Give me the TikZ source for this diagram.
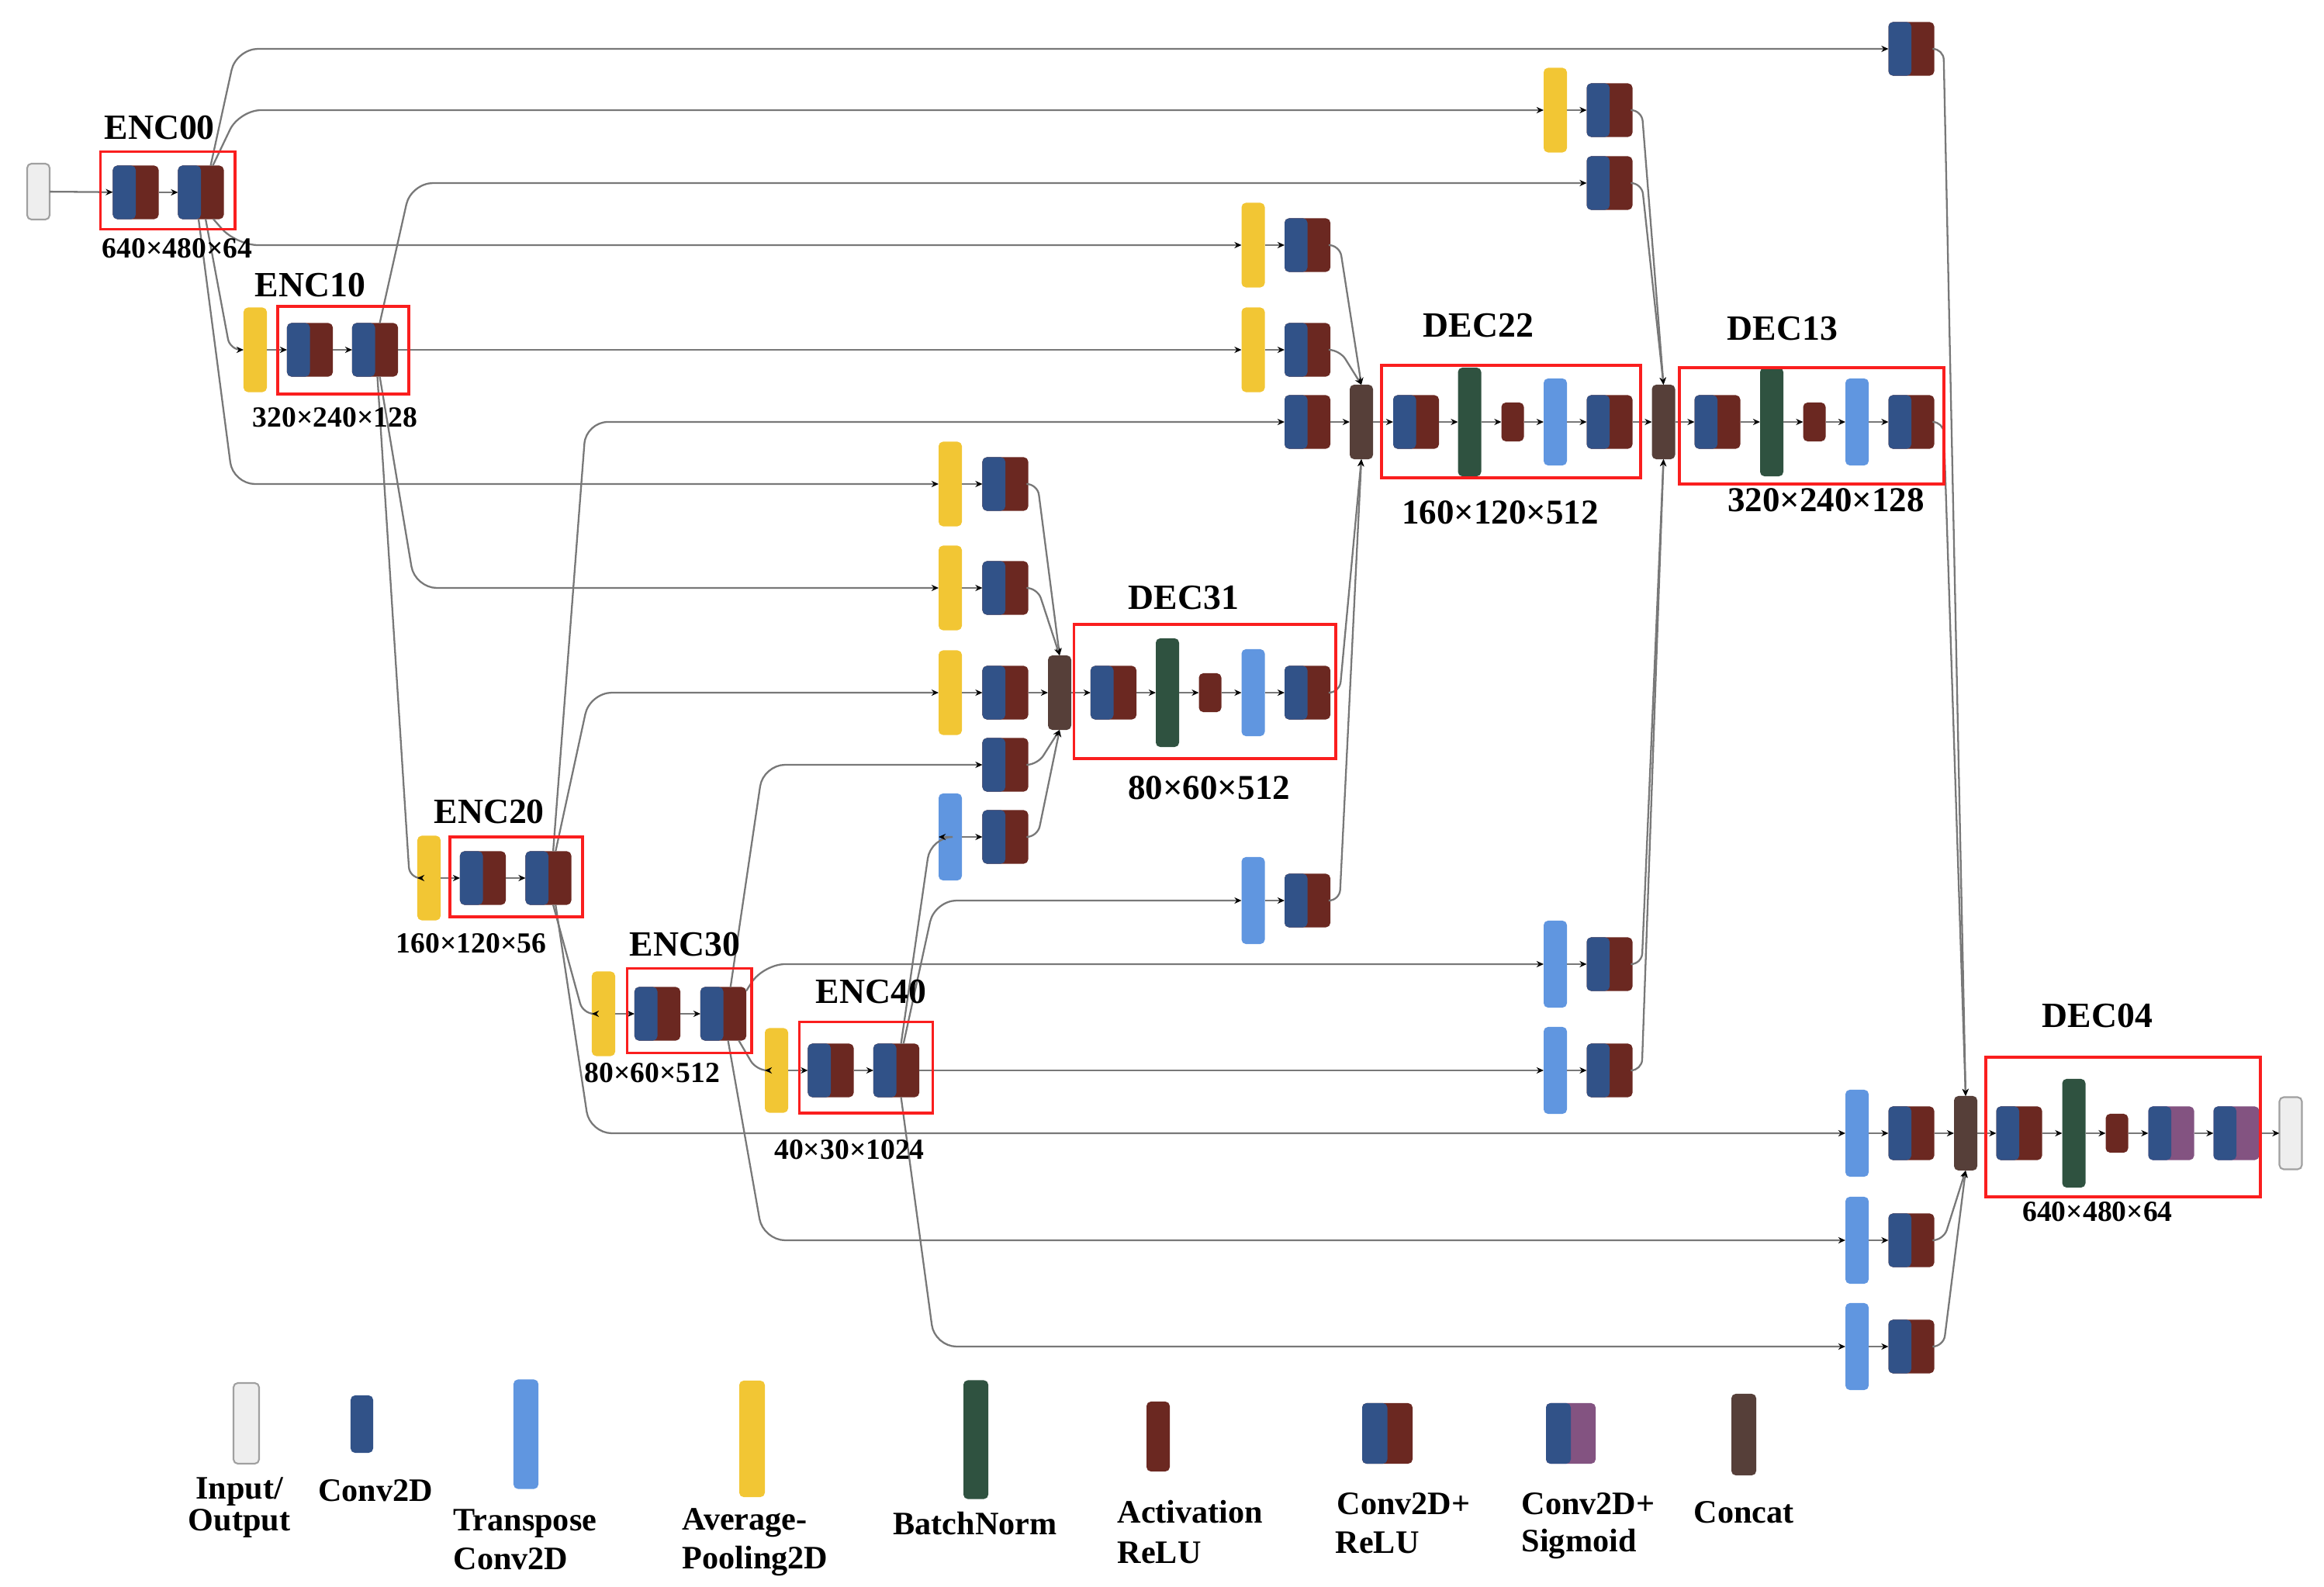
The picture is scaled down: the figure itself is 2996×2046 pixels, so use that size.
\documentclass[tikz,border=0pt]{standalone}
\usepackage{fontspec}
\setmainfont{Liberation Serif}
\usetikzlibrary{arrows.meta,calc}
\definecolor{convc}{RGB}{49,82,136}
\definecolor{reluc}{RGB}{107,40,33}
\definecolor{sigc}{RGB}{131,83,129}
\definecolor{poolc}{RGB}{242,198,52}
\definecolor{tconvc}{RGB}{96,150,224}
\definecolor{bnc}{RGB}{47,82,64}
\definecolor{catc}{RGB}{86,63,57}
\definecolor{ioc}{RGB}{238,238,238}
\definecolor{iod}{RGB}{160,160,160}
\definecolor{redc}{RGB}{250,30,30}
\definecolor{linec}{RGB}{120,120,120}
\tikzset{
  blk/.style={rectangle, rounded corners=1.6pt, inner sep=0pt, outer sep=0pt},
  convrelu/.style={blk, minimum width=0.59cm, minimum height=0.69cm, fill=reluc,
    path picture={\fill[convc] (path picture bounding box.south west) rectangle (path picture bounding box.north);}},
  convsig/.style={convrelu, fill=sigc},
  poolb/.style={blk, fill=poolc, minimum width=0.30cm, minimum height=1.09cm},
  tconvb/.style={blk, fill=tconvc, minimum width=0.30cm, minimum height=1.12cm},
  bnb/.style={blk, fill=bnc, minimum width=0.30cm, minimum height=1.40cm},
  relub/.style={blk, fill=reluc, minimum width=0.29cm, minimum height=0.50cm},
  catb/.style={blk, fill=catc, minimum width=0.30cm, minimum height=0.96cm},
  iob/.style={blk, fill=ioc, draw=iod, line width=0.6pt, minimum width=0.29cm, minimum height=0.72cm},
  convonly/.style={blk, fill=convc},
  arr/.style={draw=linec, line width=0.65pt, -{Stealth[length=2.6pt,width=2.3pt,color=black]}},
  skip/.style={arr, rounded corners=8pt},
  chain/.style={arr, rounded corners=4pt},
  merge/.style={arr, rounded corners=4pt},
  redbox/.style={draw=redc, line width=0.95pt},
  hdr/.style={font=\fontsize{13}{15}\selectfont\bfseries, inner sep=0pt},
  dimS/.style={font=\fontsize{10.7}{12}\selectfont\bfseries, inner sep=0pt},
  dimL/.style={font=\fontsize{12.8}{15}\selectfont\bfseries, inner sep=0pt},
  lg/.style={font=\fontsize{12}{14}\selectfont\bfseries, inner sep=0pt},
}
\begin{document}
\begin{tikzpicture}[x=0.01cm,y=0.01cm]
\useasboundingbox (0,0) rectangle (2996,-2046);

% ---------------- encoder ----------------
\node[iob] (in) at (49.5,-247) {};
\node[convrelu] (e00a) at (175,-248) {};
\node[convrelu] (e00b) at (259,-248) {};
\node[poolb] (p10) at (329,-451) {};
\node[convrelu] (e10a) at (399.5,-451) {};
\node[convrelu] (e10b) at (483.5,-451) {};
\node[poolb] (p20) at (553,-1132) {};
\node[convrelu] (e20a) at (622.5,-1132) {};
\node[convrelu] (e20b) at (707,-1132) {};
\node[poolb] (p30) at (778,-1307) {};
\node[convrelu] (e30a) at (847.5,-1307) {};
\node[convrelu] (e30b) at (932.5,-1307) {};
\node[poolb] (p40) at (1001,-1380) {};
\node[convrelu] (e40a) at (1071,-1380) {};
\node[convrelu] (e40b) at (1155.5,-1380) {};

% ---------------- DEC31 column ----------------
\node[poolb] (s31p) at (1225,-624) {};
\node[convrelu] (s31a) at (1296,-624) {};
\node[poolb] (s31q) at (1225,-758) {};
\node[convrelu] (s31b) at (1296,-758) {};
\node[poolb] (s31r) at (1225,-893) {};
\node[convrelu] (s31c) at (1296,-893) {};
\node[convrelu] (s31d) at (1296,-986) {};
\node[tconvb] (s31t) at (1225,-1079) {};
\node[convrelu] (s31e) at (1296,-1079) {};
\node[catb] (c31) at (1366,-893) {};
\node[convrelu] (d31a) at (1435.5,-893) {};
\node[bnb] (d31n) at (1505,-893) {};
\node[relub] (d31r) at (1560,-893) {};
\node[tconvb] (d31t) at (1615.5,-893) {};
\node[convrelu] (d31b) at (1685.5,-893) {};

% ---------------- DEC22 column ----------------
\node[poolb] (s22p) at (1615.5,-316) {};
\node[convrelu] (s22a) at (1685.5,-316) {};
\node[poolb] (s22q) at (1615.5,-451) {};
\node[convrelu] (s22b) at (1685.5,-451) {};
\node[convrelu] (s22c) at (1685.5,-544) {};
\node[tconvb] (s22t) at (1615.5,-1161) {};
\node[convrelu] (s22d) at (1685.5,-1161) {};
\node[catb] (c22) at (1755,-544) {};
\node[convrelu] (d22a) at (1825.5,-544) {};
\node[bnb] (d22n) at (1894.5,-544) {};
\node[relub] (d22r) at (1950,-544) {};
\node[tconvb] (d22t) at (2005,-544) {};
\node[convrelu] (d22b) at (2075,-544) {};

% ---------------- DEC13 column ----------------
\node[poolb] (s13p) at (2005,-142) {};
\node[convrelu] (s13a) at (2075,-142) {};
\node[convrelu] (s13b) at (2075,-236) {};
\node[tconvb] (s13t) at (2005,-1243) {};
\node[convrelu] (s13c) at (2075,-1243) {};
\node[tconvb] (s13u) at (2005,-1380) {};
\node[convrelu] (s13d) at (2075,-1380) {};
\node[catb] (c13) at (2144.5,-544) {};
\node[convrelu] (d13a) at (2214,-544) {};
\node[bnb] (d13n) at (2284,-544) {};
\node[relub] (d13r) at (2339,-544) {};
\node[tconvb] (d13t) at (2394,-544) {};
\node[convrelu] (d13b) at (2464,-544) {};

% ---------------- DEC04 column ----------------
\node[convrelu] (s04) at (2464,-63) {};
\node[tconvb] (s04t) at (2394,-1461) {};
\node[convrelu] (s04a) at (2464,-1461) {};
\node[tconvb] (s04u) at (2394,-1599) {};
\node[convrelu] (s04b) at (2464,-1599) {};
\node[tconvb] (s04v) at (2394,-1736) {};
\node[convrelu] (s04c) at (2464,-1736) {};
\node[catb] (c04) at (2534,-1461) {};
\node[convrelu] (d04a) at (2603,-1461) {};
\node[bnb] (d04n) at (2673.5,-1461) {};
\node[relub] (d04r) at (2729,-1461) {};
\node[convsig] (d04s) at (2799,-1461) {};
\node[convsig] (d04u) at (2883,-1461) {};
\node[iob, minimum height=0.93cm] (out) at (2953,-1461) {};

% ---------------- straight connectors ----------------
\foreach \a/\b in {in/e00a, e00a/e00b, p10/e10a, e10a/e10b, p20/e20a, e20a/e20b,
  p30/e30a, e30a/e30b, p40/e40a, e40a/e40b,
  s31p/s31a, s31q/s31b, s31r/s31c, s31c/c31, s31t/s31e,
  c31/d31a, d31a/d31n, d31n/d31r, d31r/d31t, d31t/d31b,
  s22p/s22a, s22q/s22b, s22c/c22, s22t/s22d,
  c22/d22a, d22a/d22n, d22n/d22r, d22r/d22t, d22t/d22b, d22b/c13,
  s13p/s13a, s13t/s13c, s13u/s13d,
  c13/d13a, d13a/d13n, d13n/d13r, d13r/d13t, d13t/d13b,
  s04t/s04a, s04a/c04, s04u/s04b, s04v/s04c,
  c04/d04a, d04a/d04n, d04n/d04r, d04r/d04s, d04s/d04u, d04u/out,
  e10b/s22q, e40b/s13u}
  \draw[arr] (\a) -- (\b);

% ---------------- long skip connectors ----------------
\foreach \s/\an/\t/\d in {e00b/70/s04/16, e00b/66/s13p/20, e00b/-65/s22p/16, e00b/-95/s31p/12,
  e10b/80/s13b/17, e10b/-80/s31q/22,
  e20b/80/s22c/19, e20b/75/s31r/24, e20b/-75/s04t/24,
  e30b/75/s31d/22, e30b/45/s13t/22, e30b/-80/s04u/22,
  e40b/80/s31t/15, e40b/75/s22t/20, e40b/-80/s04v/20}
  \draw[skip] (\s.\an) -- ($(\s.east |- \t.west)+(\d,0)$) -- (\t.west);

% ---------------- encoder down connectors ----------------
\foreach \s/\an/\t/\d in {e00b/-80/p10/8, e10b/-85/p20/15, e20b/-80/p30/15, e30b/-60/p40/13}
  \draw[chain] (\s.\an) -- ($(\s.east |- \t.west)+(\d,0)$) -- (\t.west);

% ---------------- merges into concat ----------------
\foreach \s/\t/\an in {s22a/c22/north, s22b/c22/north, d31b/c22/south, s22d/c22/south,
  s13a/c13/north, s13b/c13/north, s13c/c13/south, s13d/c13/south,
  s04/c04/north, d13b/c04/north, s04b/c04/south, s04c/c04/south,
  s31a/c31/north, s31b/c31/north, s31d/c31/south, s31e/c31/south}
  \draw[merge] (\s.east) -- ++(12,0) -- (\t.\an);

% ---------------- group frames ----------------
\draw[redbox] (129.5,-195.5) rectangle (303,-295.5);
\draw[redbox] (358,-395) rectangle (527,-508);
\draw[redbox] (580,-1079) rectangle (751,-1182);
\draw[redbox] (808.7,-1248.7) rectangle (969,-1357.8);
\draw[redbox] (1030.6,-1317.6) rectangle (1202.8,-1435);
\draw[redbox] (1384.5,-805) rectangle (1722,-978);
\draw[redbox] (1781,-471) rectangle (2115,-616);
\draw[redbox] (2165,-474) rectangle (2506,-624);
\draw[redbox] (2560,-1363) rectangle (2914,-1543);

% ---------------- titles ----------------
\node[hdr] (tE00) at (205.7,-165) {ENC00};
\node[hdr] (tE10) at (400,-368) {ENC10};
\node[hdr] (tE20) at (630.7,-1047) {ENC20};
\node[hdr] (tE30) at (883,-1218) {ENC30};
\node[hdr] (tE40) at (1123,-1279) {ENC40};
\node[hdr] (tD31) at (1526,-770.5) {DEC31};
\node[hdr] (tD22) at (1906,-420) {DEC22};
\node[hdr] (tD13) at (2298,-424) {DEC13};
\node[hdr] (tD04) at (2704,-1310) {DEC04};

\node[dimS] (zE00) at (228.6,-320) {640×480×64};
\node[dimS] (zE10) at (432,-538) {320×240×128};
\node[dimS] (zE20) at (607.5,-1216.6) {160×120×56};
\node[dimS] (zE30) at (841,-1383.6) {80×60×512};
\node[dimS] (zE40) at (1095,-1482) {40×30×1024};
\node[dimS] (zD04) at (2704,-1562) {640×480×64};
\node[dimL] (zD31) at (1558.7,-1015.7) {80×60×512};
\node[dimL] (zD22) at (1934,-661) {160×120×512};
\node[dimL] (zD13) at (2354,-645) {320×240×128};

% ---------------- legend ----------------
\node[iob, minimum width=0.33cm, minimum height=1.04cm] (lgio) at (317.5,-1835) {};
\node[convonly, minimum width=0.29cm, minimum height=0.74cm] (lgconv) at (466.5,-1836) {};
\node[tconvb, minimum width=0.32cm, minimum height=1.41cm] (lgtconv) at (678,-1849) {};
\node[poolb, minimum width=0.33cm, minimum height=1.50cm] (lgpool) at (969.5,-1855) {};
\node[bnb, minimum width=0.32cm, minimum height=1.53cm] (lgbn) at (1258,-1856) {};
\node[relub, minimum width=0.30cm, minimum height=0.90cm] (lgrelu) at (1493,-1852) {};
\node[convrelu, minimum width=0.65cm, minimum height=0.78cm] (lgcr) at (1788.5,-1848) {};
\node[convsig, minimum width=0.64cm, minimum height=0.78cm] (lgcs) at (2025,-1848) {};
\node[catb, minimum width=0.32cm, minimum height=1.05cm] (lgcat) at (2248,-1849.5) {};

\node[lg, anchor=base] (lIOa) at (308.5,-1932) {Input/};
\node[lg, anchor=base] (lIOb) at (308.5,-1973) {Output};
\node[lg, anchor=base] (lCv) at (484,-1935) {Conv2D};
\node[lg, anchor=base west] (lTa) at (584,-1973) {Transpose};
\node[lg, anchor=base west] (lTb) at (584,-2023) {Conv2D};
\node[lg, anchor=base west] (lPa) at (879,-1972) {Average-};
\node[lg, anchor=base west] (lPb) at (879,-2022) {Pooling2D};
\node[lg, anchor=base] (lBN) at (1257,-1978) {BatchNorm};
\node[lg, anchor=base west] (lRa) at (1440,-1963) {Activation};
\node[lg, anchor=base west] (lRb) at (1440,-2015) {ReLU};
\node[lg, anchor=base west] (lCRa) at (1723,-1952) {Conv2D+};
\node[lg, anchor=base west] (lCRb) at (1721,-2002) {ReLU};
\node[lg, anchor=base west] (lCSa) at (1961,-1952) {Conv2D+};
\node[lg, anchor=base west] (lCSb) at (1961,-2000) {Sigmoid};
\node[lg, anchor=base] (lCat) at (2248,-1963) {Concat};
\end{tikzpicture}
\end{document}
